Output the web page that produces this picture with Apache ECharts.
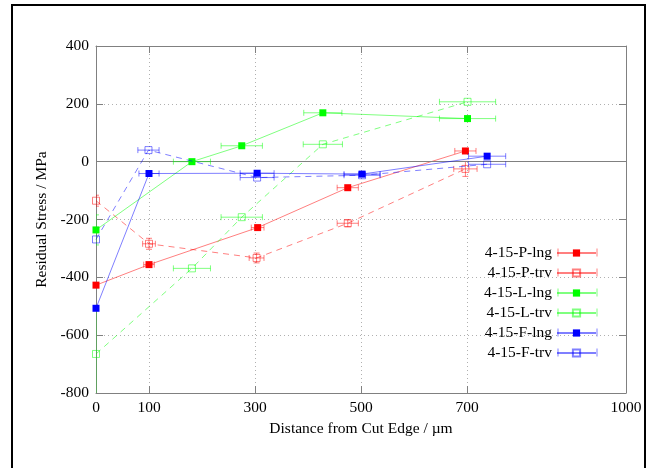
<!DOCTYPE html>
<html>
<head>
<meta charset="utf-8">
<script src="https://cdn.jsdelivr.net/npm/echarts@6/dist/echarts.min.js"></script>
<style>html,body{margin:0;padding:0;background:#fff}#c{width:648px;height:468px}</style>
</head>
<body>
<div id="c"></div>
<script>
// ---- data ----
const xTickValues = [0, 100, 300, 500, 700, 1000];
const yTickValues = [-800, -600, -400, -200, 0, 200, 400];

const pLngX = [0, 100, 305, 475, 697];
const pLngY = [-427, -356, -228, -90, 37];
const pLngXErr = [0, 10, 12, 20, 20];
const pLngYErr = [0, 0, 0, 0, 0];

const pTrvX = [0, 100, 303, 475, 697];
const pTrvY = [-135, -284, -333, -213, -25];
const pTrvXErr = [0, 12, 14, 20, 22];
const pTrvYErr = [19, 19, 17, 12, 26];

const lLngX = [0, 181, 275, 428, 701];
const lLngY = [-236, 0, 55, 169, 149];
const lLngXErr = [0, 35, 39, 36, 53];
const lLngYErr = [52, 0, 0, 0, 0];

const lTrvX = [0, 181, 275, 428, 701];
const lTrvY = [-665, -369, -192, 60, 207];
const lTrvXErr = [0, 35, 39, 37, 53];
const lTrvYErr = [155, 0, 0, 0, 0];

const fLngX = [0, 100, 304, 502, 738];
const fLngY = [-507, -41, -40, -43, 19];
const fLngXErr = [0, 19, 32, 34, 35];
const fLngYErr = [0, 0, 0, 0, 0];

const fTrvX = [0, 99, 304, 502, 738];
const fTrvY = [-269, 40, -55, -47, -9];
const fTrvXErr = [0, 20, 32, 34, 35];
const fTrvYErr = [0, 0, 0, 0, 0];

const seriesNames = ['4-15-P-lng', '4-15-P-trv', '4-15-L-lng', '4-15-L-trv', '4-15-F-lng', '4-15-F-trv'];
const seriesColors = ['#ff0000', '#ff0000', '#00ff00', '#00ff00', '#0000ff', '#0000ff'];

// ---- build ----
const FONT = 'Liberation Serif, Times New Roman, serif';
const FS = 15.5;
const LINE_OP = 0.5;
const sets = [
  [pLngX, pLngY, pLngXErr, pLngYErr, true],
  [pTrvX, pTrvY, pTrvXErr, pTrvYErr, false],
  [lLngX, lLngY, lLngXErr, lLngYErr, true],
  [lTrvX, lTrvY, lTrvXErr, lTrvYErr, false],
  [fLngX, fLngY, fLngXErr, fLngYErr, true],
  [fTrvX, fTrvY, fTrvXErr, fTrvYErr, false]
];

function errRender(color) {
  return function (params, api) {
    const x = api.value(0), y = api.value(1), ex = api.value(2), ey = api.value(3);
    const ch = [];
    const st = { stroke: color, lineWidth: 1, opacity: LINE_OP };
    const cap = 3;
    if (ex > 0) {
      const l = api.coord([x - ex, y]), r = api.coord([x + ex, y]);
      ch.push({ type: 'line', shape: { x1: l[0], y1: l[1], x2: r[0], y2: r[1] }, style: st });
      ch.push({ type: 'line', shape: { x1: l[0], y1: l[1] - cap, x2: l[0], y2: l[1] + cap }, style: st });
      ch.push({ type: 'line', shape: { x1: r[0], y1: r[1] - cap, x2: r[0], y2: r[1] + cap }, style: st });
    }
    if (ey > 0) {
      const t = api.coord([x, y + ey]), b = api.coord([x, y - ey]);
      ch.push({ type: 'line', shape: { x1: t[0], y1: t[1], x2: b[0], y2: b[1] }, style: st });
      ch.push({ type: 'line', shape: { x1: t[0] - cap, y1: t[1], x2: t[0] + cap, y2: t[1] }, style: st });
      ch.push({ type: 'line', shape: { x1: b[0] - cap, y1: b[1], x2: b[0] + cap, y2: b[1] }, style: st });
    }
    return { type: 'group', children: ch };
  };
}

const series = [];
sets.forEach((s, i) => {
  const [xs, ys, exs, eys, filled] = s;
  const color = seriesColors[i];
  series.push({
    type: 'custom',
    name: seriesNames[i] + ' err',
    renderItem: errRender(color),
    data: xs.map((x, k) => [x, ys[k], exs[k], eys[k]]),
    clip: true,
    silent: true,
    z: 2 + i * 2
  });
  const line = {
    type: 'line',
    name: seriesNames[i],
    data: xs.map((x, k) => [x, ys[k]]),
    symbol: 'rect',
    symbolSize: 7,
    showAllSymbol: true,
    clip: true,
    lineStyle: { color: color, width: 1, opacity: LINE_OP, type: filled ? 'solid' : [6, 5] },
    itemStyle: filled ? { color: color } : { color: 'rgba(255,255,255,0)', borderColor: color, borderWidth: 1, opacity: 0.5 },
    emphasis: { disabled: true },
    animation: false,
    z: 3 + i * 2
  };
  if (i === 0) {
    line.markLine = {
      silent: true, symbol: 'none', label: { show: false },
      lineStyle: { color: '#808080', type: 'solid', width: 1 },
      data: [{ yAxis: 0 }], animation: false
    };
  }
  series.push(line);
});

const legendTop0 = 245, legendStep = 20;
const legends = seriesNames.map((n, i) => ({
  data: [n],
  orient: 'vertical',
  right: 51,
  top: legendTop0 + i * legendStep,
  align: 'right',
  padding: 0,
  itemWidth: 39,
  itemHeight: 9,
  selectedMode: false,
  lineStyle: { type: 'solid' },
  textStyle: { fontFamily: FONT, fontSize: FS, color: '#000' }
}));

const capGraphics = [];
seriesNames.forEach((n, i) => {
  const yc = legendTop0 + i * legendStep + 7.5;
  [558, 597].forEach(x => capGraphics.push({
    type: 'line', silent: true,
    shape: { x1: x, y1: yc - 4, x2: x, y2: yc + 4 },
    style: { stroke: seriesColors[i], lineWidth: 1, opacity: LINE_OP }
  }));
});

const gridLine = { show: true, lineStyle: { color: '#b0b0b0', type: [1, 3], width: 1 } };
const chart = echarts.init(document.getElementById('c'));
chart.setOption({
  animation: false,
  backgroundColor: '#fff',
  grid: { left: 96, top: 46, width: 530, height: 347, containLabel: false },
  xAxis: [{
    type: 'value', min: 0, max: 1000, interval: 100, position: 'bottom',
    name: 'Distance from Cut Edge / \u00b5m', nameLocation: 'middle', nameGap: 27,
    nameTextStyle: { fontFamily: FONT, fontSize: FS, color: '#000' },
    axisLine: { show: true, onZero: false, lineStyle: { color: '#808080' } },
    axisTick: { show: true, inside: true, length: 7, customValues: xTickValues, lineStyle: { color: '#808080' } },
    axisLabel: { customValues: xTickValues, margin: 7, fontFamily: FONT, fontSize: FS, color: '#000', formatter: v => String(v) },
    splitLine: gridLine
  }, {
    type: 'value', min: 0, max: 1000, interval: 100, position: 'top',
    axisLine: { show: true, onZero: false, lineStyle: { color: '#808080' } },
    axisTick: { show: true, inside: true, length: 7, customValues: xTickValues, lineStyle: { color: '#808080' } },
    axisLabel: { show: false },
    splitLine: { show: false }
  }],
  yAxis: [{
    type: 'value', min: -800, max: 400, interval: 200, position: 'left',
    name: 'Residual Stress / MPa', nameLocation: 'middle', nameGap: 45, nameRotate: 90,
    nameTextStyle: { fontFamily: FONT, fontSize: FS, color: '#000' },
    axisLine: { show: true, onZero: false, lineStyle: { color: '#808080' } },
    axisTick: { show: true, inside: true, length: 7, lineStyle: { color: '#808080' } },
    axisLabel: { margin: 7, fontFamily: FONT, fontSize: FS, color: '#000', formatter: v => String(v) },
    splitLine: gridLine
  }, {
    type: 'value', min: -800, max: 400, interval: 200, position: 'right',
    axisLine: { show: true, onZero: false, lineStyle: { color: '#808080' } },
    axisTick: { show: true, inside: true, length: 7, lineStyle: { color: '#808080' } },
    axisLabel: { show: false },
    splitLine: { show: false }
  }],
  legend: legends,
  series: series,
  graphic: [{
    type: 'rect', silent: true,
    shape: { x: 12, y: 5, width: 633, height: 470 },
    style: { fill: 'none', stroke: '#000', lineWidth: 2 }
  }].concat(capGraphics)
});
</script>
</body>
</html>
